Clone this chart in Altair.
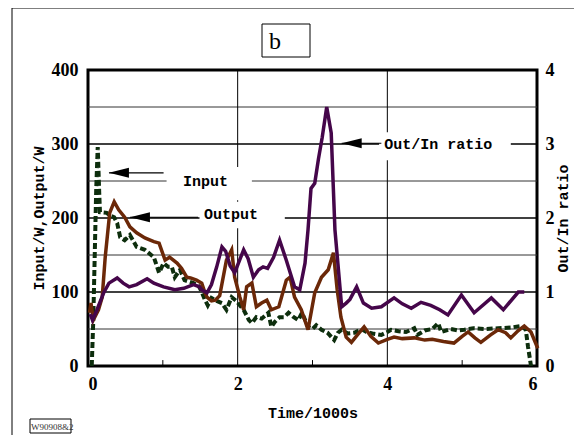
import altair as alt
import pandas as pd

# ---------------- data ----------------
in_t = [0.05, 0.07, 0.09, 0.11, 0.13, 0.15, 0.16, 0.25, 0.30, 0.35, 0.39, 0.43, 0.49, 0.56,
        0.60, 0.65, 0.76, 0.88, 0.95, 1.01, 1.07, 1.12, 1.16, 1.23, 1.29, 1.35, 1.41, 1.48,
        1.52, 1.56, 1.60, 1.65, 1.72, 1.79, 1.85, 1.92, 1.98, 2.08, 2.15, 2.19, 2.25, 2.32,
        2.41, 2.45, 2.50, 2.56, 2.62, 2.68, 2.75, 2.81, 2.86, 2.94, 3.00, 3.05, 3.12, 3.20,
        3.29, 3.34, 3.39, 3.47, 3.56, 3.65, 3.72, 3.80, 3.92, 4.00, 4.05, 4.15, 4.25, 4.36,
        4.40, 4.50, 4.60, 4.68, 4.72, 4.85, 4.95, 5.03, 5.15, 5.30, 5.48, 5.65, 5.79, 5.85,
        5.88, 5.92]
in_w = [0, 60, 150, 240, 296, 234, 208, 207, 203, 201, 193, 174, 170, 177,
        170, 161, 157, 147, 126, 139, 134, 134, 120, 130, 116, 114, 112, 108,
        100, 90, 82, 92, 88, 85, 76, 93, 88, 76, 62, 58, 66, 64,
        72, 53, 60, 66, 66, 72, 66, 62, 72, 53, 50, 55, 49, 45,
        35, 45, 49, 44, 45, 50, 46, 44, 42, 46, 49, 47, 46, 51,
        42, 48, 50, 58, 46, 50, 48, 49, 51, 50, 51, 52, 54, 49,
        26, 0]

out_t = [0.02, 0.04, 0.07, 0.14, 0.19, 0.23, 0.29, 0.35, 0.41, 0.49, 0.56, 0.65, 0.76, 0.88,
         0.95, 1.03, 1.09, 1.19, 1.25, 1.32, 1.37, 1.45, 1.52, 1.56, 1.59, 1.65, 1.70, 1.76,
         1.85, 1.92, 1.96, 2.03, 2.08, 2.12, 2.19, 2.25, 2.32, 2.39, 2.45, 2.55, 2.65, 2.70,
         2.76, 2.85, 2.94, 3.03, 3.12, 3.21, 3.28, 3.33, 3.38, 3.45, 3.52, 3.60, 3.69, 3.78,
         3.88, 4.00, 4.09, 4.20, 4.36, 4.50, 4.60, 4.75, 4.89, 5.00, 5.08, 5.17, 5.25, 5.38,
         5.48, 5.58, 5.65, 5.75, 5.83, 5.92, 6.01]
out_w = [72, 85, 62, 76, 93, 147, 207, 222, 211, 201, 188, 180, 173, 168,
         166, 143, 147, 139, 132, 120, 119, 116, 112, 100, 93, 88, 89, 95,
         143, 157, 120, 93, 76, 107, 112, 80, 85, 89, 76, 80, 116, 120,
         93, 76, 49, 99, 120, 130, 153, 103, 66, 39, 32, 42, 53, 40,
         31, 36, 39, 37, 38, 35, 36, 33, 31, 40, 46, 38, 32, 42,
         49, 45, 38, 48, 54, 46, 24]

ratio_t = [0.03, 0.06, 0.12, 0.21, 0.28, 0.39, 0.47, 0.55, 0.65, 0.79, 0.88, 1.01, 1.16, 1.28,
           1.41, 1.49, 1.52, 1.59, 1.65, 1.72, 1.79, 1.84, 1.90, 1.96, 2.08, 2.14, 2.21, 2.28,
           2.34, 2.40, 2.48, 2.56, 2.65, 2.76, 2.83, 2.90, 2.94, 2.98, 3.03, 3.08, 3.13, 3.19,
           3.25, 3.30, 3.39, 3.45, 3.50, 3.59, 3.68, 3.79, 3.92, 4.09, 4.20, 4.32, 4.45, 4.58,
           4.70, 4.81, 4.99, 5.16, 5.39, 5.55, 5.75, 5.83]
ratio_v = [0.70, 0.62, 0.76, 0.99, 1.12, 1.19, 1.12, 1.07, 1.10, 1.18, 1.12, 1.07, 1.03, 1.05,
           1.10, 1.07, 1.03, 0.99, 1.10, 1.34, 1.61, 1.55, 1.35, 1.26, 1.57, 1.45, 1.20, 1.30,
           1.34, 1.32, 1.47, 1.70, 1.43, 1.07, 1.03, 1.39, 1.84, 2.40, 2.47, 2.80, 3.09, 3.50,
           3.15, 1.84, 0.80, 0.85, 0.90, 1.07, 0.85, 0.78, 0.80, 0.92, 0.84, 0.78, 0.86, 0.82,
           0.76, 0.69, 0.96, 0.72, 0.92, 0.76, 1.00, 1.00]

# grid / ticks
grid_major = [100, 200, 300]
grid_minor = [50, 150, 250, 350]
grid_x = [2, 4]
minor_ticks_x = [1, 3, 5]

# annotations
ann_label = ["Input", "Output", "Out/In ratio"]
ann_tx = [1.57, 1.91, 4.68]
ann_ty = [250, 206, 300]
ann_tip = [0.28, 0.56, 3.39]
ann_tail = [1.01, 1.47, 3.92]
ann_ay = [261, 201, 301]
box_x1 = [1.05, 1.49, 3.89]
box_x2 = [2.19, 2.63, 5.65]
box_y1 = [224, 186, 278]
box_y2 = [269, 222, 316]

BLACK = "#000000"
C_IN = "#0d2e0d"
C_OUT = "#6b2808"
C_RATIO = "#45064a"
MONO = "Liberation Mono"
SERIF = "Liberation Serif"

df_in = pd.DataFrame({"t": in_t, "w": in_w})
df_out = pd.DataFrame({"t": out_t, "w": out_w})
df_ratio = pd.DataFrame({"t": ratio_t, "r": ratio_v})
df_gmaj = pd.DataFrame({"w": grid_major})
df_gmin = pd.DataFrame({"w": grid_minor})
df_gx = pd.DataFrame({"t": grid_x})
df_tick = pd.DataFrame({"t": minor_ticks_x, "y0": [0] * 3, "y1": [8] * 3})
df_ann = pd.DataFrame({"label": ann_label, "tx": ann_tx, "ty": ann_ty, "tip": ann_tip,
                       "tail": ann_tail, "ay": ann_ay, "bx1": box_x1, "bx2": box_x2,
                       "by1": box_y1, "by2": box_y2})

xs = alt.Scale(domain=[0, 6], nice=False, zero=False)
ys = alt.Scale(domain=[0, 400], nice=False)

x_axis = alt.Axis(values=[0, 2, 4, 6], format="d", title="Time/1000s", grid=False,
                  ticks=False, tickSize=0, domain=False, labelPadding=9,
                  labelFont=SERIF, labelFontSize=18, labelFontWeight="bold", labelColor=BLACK,
                  titleFont=MONO, titleFontSize=15, titleFontWeight="bold", titleColor=BLACK,
                  titlePadding=12)
y_axis = alt.Axis(values=[0, 100, 200, 300, 400], format="d", title="Input/W,Output/W",
                  grid=False, ticks=False, tickSize=0, domain=False, labelPadding=10,
                  labelFont=SERIF, labelFontSize=18, labelFontWeight="bold", labelColor=BLACK,
                  titleFont=MONO, titleFontSize=15, titleFontWeight="bold", titleColor=BLACK,
                  titlePadding=5)
r_axis = alt.Axis(orient="right", values=[0, 1, 2, 3, 4], format="d", title="Out/In ratio",
                  grid=False, ticks=False, tickSize=0, domain=False, labelPadding=8,
                  labelFont=SERIF, labelFontSize=18, labelFontWeight="bold", labelColor=BLACK,
                  titleFont=MONO, titleFontSize=15, titleFontWeight="bold", titleColor=BLACK,
                  titlePadding=16, titleAngle=270)

# outer frame and decorations (pure decoration, pixel placed)
frame_left = alt.Chart(pd.DataFrame({"a": [0]})).mark_rule(color=BLACK, strokeWidth=1).encode(
    x=alt.value(-76), y=alt.value(-62), y2=alt.value(380))
frame_top = alt.Chart(pd.DataFrame({"a": [0]})).mark_rule(color=BLACK, strokeWidth=1).encode(
    x=alt.value(-76), x2=alt.value(500), y=alt.value(-62))
bbox = alt.Chart(pd.DataFrame({"a": [0]})).mark_rect(fill="white", stroke=BLACK, strokeWidth=1).encode(
    x=alt.value(174), x2=alt.value(222), y=alt.value(-46), y2=alt.value(-13))
btext = alt.Chart(pd.DataFrame({"s": ["b"]})).mark_text(
    font=SERIF, fontSize=24, align="left", baseline="alphabetic", color=BLACK).encode(
    x=alt.value(181), y=alt.value(-21), text="s:N")
wbox = alt.Chart(pd.DataFrame({"a": [0]})).mark_rect(fill="white", stroke=BLACK, strokeWidth=1).encode(
    x=alt.value(-58), x2=alt.value(-17), y=alt.value(349), y2=alt.value(363))
wtext = alt.Chart(pd.DataFrame({"s": ["W90908&2"]})).mark_text(
    font=SERIF, fontSize=9, align="left", baseline="alphabetic", color="#333333").encode(
    x=alt.value(-57), y=alt.value(360), text="s:N")

g_major = alt.Chart(df_gmaj).mark_rule(color=BLACK, strokeWidth=1.6).encode(
    y=alt.Y("w:Q", scale=ys, axis=y_axis))
g_minor = alt.Chart(df_gmin).mark_rule(color="#333333", strokeWidth=1).encode(
    y=alt.Y("w:Q", scale=ys))
g_x = alt.Chart(df_gx).mark_rule(color=BLACK, strokeWidth=1).encode(
    x=alt.X("t:Q", scale=xs, axis=x_axis))
g_ticks = alt.Chart(df_tick).mark_rule(color=BLACK, strokeWidth=1).encode(
    x=alt.X("t:Q", scale=xs), y=alt.Y("y0:Q", scale=ys), y2="y1:Q")

boxes = alt.Chart(df_ann).mark_rect(fill="white").encode(
    x=alt.X("bx1:Q", scale=xs), x2="bx2:Q", y=alt.Y("by1:Q", scale=ys), y2="by2:Q")

line_in = alt.Chart(df_in).mark_line(color=C_IN, strokeWidth=4, strokeDash=[6, 3],
                                     strokeCap="butt").encode(
    x=alt.X("t:Q", scale=xs), y=alt.Y("w:Q", scale=ys))
line_out = alt.Chart(df_out).mark_line(color=C_OUT, strokeWidth=3.5).encode(
    x=alt.X("t:Q", scale=xs), y=alt.Y("w:Q", scale=ys))

arrow_line = alt.Chart(df_ann).mark_rule(color=BLACK, strokeWidth=1.2).encode(
    x=alt.X("tip:Q", scale=xs), x2="tail:Q", y=alt.Y("ay:Q", scale=ys))
arrow_head = alt.Chart(df_ann).mark_point(
    shape="M0,0L2,-0.5L2,0.5Z", filled=True, color=BLACK, size=400, opacity=1).encode(
    x=alt.X("tip:Q", scale=xs), y=alt.Y("ay:Q", scale=ys))
ann_text = alt.Chart(df_ann).mark_text(font=MONO, fontSize=15, fontWeight="bold",
                                       color=BLACK, align="center", baseline="middle").encode(
    x=alt.X("tx:Q", scale=xs), y=alt.Y("ty:Q", scale=ys), text="label:N")

inner = alt.layer(frame_left, frame_top, g_major, g_minor, g_x, g_ticks, boxes,
                  line_in, line_out, arrow_line, arrow_head, ann_text,
                  bbox, btext, wbox, wtext)

line_ratio = alt.Chart(df_ratio).mark_line(color=C_RATIO, strokeWidth=3.5).encode(
    x=alt.X("t:Q", scale=xs), y=alt.Y("r:Q", scale=alt.Scale(domain=[0, 4], nice=False), axis=r_axis))

chart = alt.layer(inner, line_ratio).resolve_scale(y="independent").properties(
    width=449, height=296,
    autosize=alt.AutoSizeParams(type="none"),
    padding={"left": 80, "top": 62, "right": 37, "bottom": 69},
    background="white",
).configure_view(stroke=BLACK, strokeWidth=3)

chart.save("out.html", embed_options={"renderer": "svg", "actions": False})
